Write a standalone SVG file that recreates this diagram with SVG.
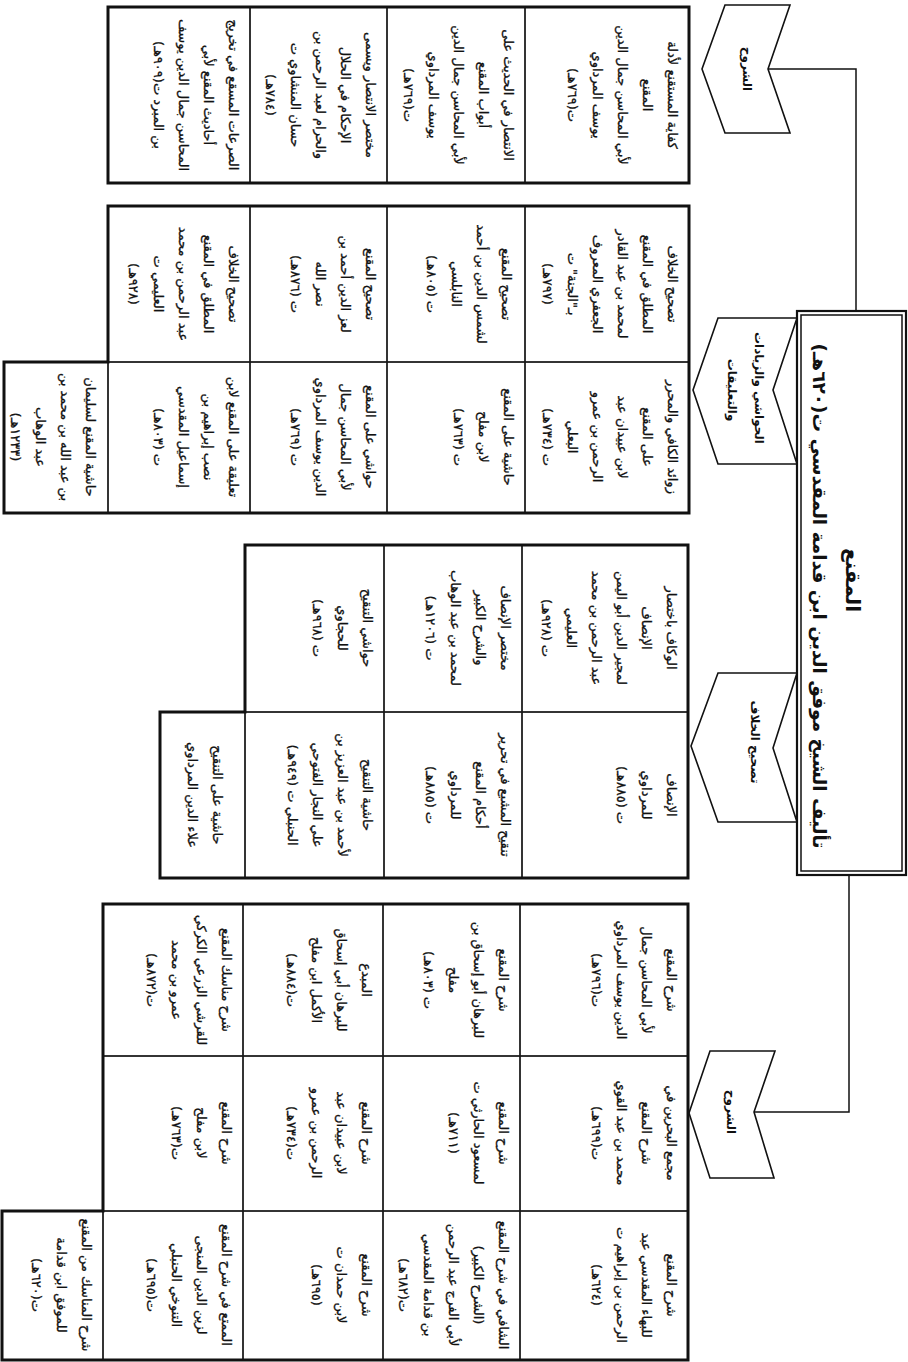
<svg xmlns="http://www.w3.org/2000/svg" width="908" height="1362" viewBox="0 0 908 1362">
<style>
.bg{fill:#fff}
.cell rect{fill:none;stroke:#1a1a1a;stroke-width:1.3}
.outer{fill:none;stroke:#111;stroke-width:3}
.t{font-family:"DejaVu Sans",sans-serif;font-size:13px;fill:#111;stroke:#111;stroke-width:0.3;text-anchor:middle;direction:rtl}
.lbl{font-family:"DejaVu Sans",sans-serif;font-size:12px;font-weight:bold;fill:#111;text-anchor:middle;direction:rtl}
.ttl{font-family:"DejaVu Sans",sans-serif;font-weight:bold;fill:#111;text-anchor:middle;direction:rtl}
.pent{fill:#fff;stroke:#111;stroke-width:1.6;stroke-linejoin:miter}
.conn{fill:none;stroke:#111;stroke-width:1.5}
</style>
<rect class="bg" x="0" y="0" width="908" height="1362"/>
<g transform="translate(908,0) rotate(90)">

<g id="connectors">
<path class="conn" d="M69,140 V52 H311"/>
<path class="conn" d="M875,59 H1112 V154"/>
</g>

<g id="root">
<rect x="311" y="2" width="564" height="109" fill="#fff" stroke="#111" stroke-width="2.2"/>
<rect x="315" y="6" width="556" height="101" fill="none" stroke="#111" stroke-width="1.5"/>
<text class="ttl" x="580" y="62" font-size="20">المقنع</text>
<text class="ttl" x="596" y="95" font-size="18.5">تأليف الشيخ موفق الدين ابن قدامة المقدسي ت(٦٢٠هـ)</text>
</g>

<g id="cat-shuruh-1">
<polygon class="pent" points="5,118 69,140 133,118 133,183 69,206 5,183"/>
<text class="lbl" x="69" y="165" font-size="14">الشروح</text>
</g>
<g id="cat-hawashi">
<polygon class="pent" points="318,111 390,135 464,111 464,190 390,215 318,190"/>
<text class="lbl" x="388" y="153" font-size="11">الحواشي والزيادات</text>
<text class="lbl" x="390" y="180" font-size="11">والتعليقات</text>
</g>
<g id="cat-tashih">
<polygon class="pent" points="673,111 748,135 822,111 822,190 746,217 673,190"/>
<text class="lbl" x="742" y="157">تصحيح الخلاف</text>
</g>
<g id="cat-shuruh-2">
<polygon class="pent" points="1051,133 1112,154 1178,134 1178,198 1113,219 1051,198"/>
<text class="lbl" x="1112" y="181" font-size="14">الشروح</text>
</g>

<!-- Table 1 -->
<g id="t1-1" class="cell"><rect x="7" y="219" width="176" height="164"/>
<text class="t"><tspan x="95" y="240">كفاية المستقنع لأدلة</tspan><tspan x="95" y="265">المقنع</tspan><tspan x="95" y="290">لأبي المحاسن جمال الدين</tspan><tspan x="95" y="315">يوسف المرداوي</tspan><tspan x="95" y="340">ت(٧٦٩هـ)</tspan></text></g>
<g id="t1-2" class="cell"><rect x="7" y="383" width="176" height="138"/>
<text class="t"><tspan x="95" y="404">الانتصار في الحديث على</tspan><tspan x="95" y="429">أبواب المقنع</tspan><tspan x="95" y="454">لأبي المحاسن جمال الدين</tspan><tspan x="95" y="479">يوسف المرداوي</tspan><tspan x="95" y="504">ت(٧٦٩هـ)</tspan></text></g>
<g id="t1-3" class="cell"><rect x="7" y="521" width="176" height="137"/>
<text class="t"><tspan x="95" y="542">مختصر الانتصار ويسمى</tspan><tspan x="95" y="567">الإحكام في الحلال</tspan><tspan x="95" y="592">والحرام لعبد الرحمن بن</tspan><tspan x="95" y="617">حسان المنشاوي ت</tspan><tspan x="95" y="642">(٧٨٤هـ)</tspan></text></g>
<g id="t1-4" class="cell"><rect x="7" y="658" width="176" height="142"/>
<text class="t"><tspan x="95" y="679">الصرعات المسقع في تخريج</tspan><tspan x="95" y="704">أحاديث المقنع لأبي</tspan><tspan x="95" y="729">المحاسن جمال الدين يوسف</tspan><tspan x="95" y="754">بن المبرد ت(٩٠٩هـ)</tspan></text></g>
<path class="outer" d="M7,219 H183 V800 H7 Z"/>

<!-- Table 2 -->
<g id="t2-1" class="cell"><rect x="206" y="219" width="156" height="164"/>
<text class="t"><tspan x="284" y="240">تصحيح الخلاف</tspan><tspan x="284" y="265">المطلق في المقنع</tspan><tspan x="284" y="290">لمحمد بن عبد القادر</tspan><tspan x="284" y="315">الجعفري المعروف</tspan><tspan x="284" y="340">بـ"الجنة" ت</tspan><tspan x="284" y="365">(٧٩٧هـ)</tspan></text></g>
<g id="t2-2" class="cell"><rect x="206" y="383" width="156" height="138"/>
<text class="t"><tspan x="284" y="406">تصحيح المقنع</tspan><tspan x="284" y="431">لشمس الدين بن أحمد</tspan><tspan x="284" y="456">النابلسي</tspan><tspan x="284" y="481">ت (٨٠٥هـ)</tspan></text></g>
<g id="t2-3" class="cell"><rect x="206" y="521" width="156" height="137"/>
<text class="t"><tspan x="284" y="542">تصحيح المقنع</tspan><tspan x="284" y="567">لعز الدين أحمد بن</tspan><tspan x="284" y="592">نصر الله</tspan><tspan x="284" y="617">ت (٨٧٦هـ)</tspan></text></g>
<g id="t2-4" class="cell"><rect x="206" y="658" width="156" height="142"/>
<text class="t"><tspan x="284" y="679">تصحيح الخلاف</tspan><tspan x="284" y="704">المطلق في المقنع</tspan><tspan x="284" y="729">عبد الرحمن بن محمد</tspan><tspan x="284" y="754">العليمي ت</tspan><tspan x="284" y="779">(٩٢٨هـ)</tspan></text></g>
<g id="t2-5" class="cell"><rect x="362" y="219" width="151" height="164"/>
<text class="t"><tspan x="437" y="240">زوائد الكافي والمحرر</tspan><tspan x="437" y="265">على المقنع</tspan><tspan x="437" y="290">لابن عبيدان عبد</tspan><tspan x="437" y="315">الرحمن بن عمرو</tspan><tspan x="437" y="340">البعلي</tspan><tspan x="437" y="365">ت (٧٣٤هـ)</tspan></text></g>
<g id="t2-6" class="cell"><rect x="362" y="383" width="151" height="138"/>
<text class="t"><tspan x="437" y="404">حاشية على المقنع</tspan><tspan x="437" y="429">لابن مفلح</tspan><tspan x="437" y="454">ت (٧٦٣هـ)</tspan></text></g>
<g id="t2-7" class="cell"><rect x="362" y="521" width="151" height="137"/>
<text class="t"><tspan x="437" y="542">حواشي على المقنع</tspan><tspan x="437" y="567">لأبي المحاسن جمال</tspan><tspan x="437" y="592">الدين يوسف المرداوي</tspan><tspan x="437" y="617">ت (٧٦٩هـ)</tspan></text></g>
<g id="t2-8" class="cell"><rect x="362" y="658" width="151" height="142"/>
<text class="t"><tspan x="437" y="679">تعليقة على المقنع لابن</tspan><tspan x="437" y="704">نصب إبراهيم بن</tspan><tspan x="437" y="729">إسماعيل المقدسي</tspan><tspan x="437" y="754">ت (٨٠٣هـ)</tspan></text></g>
<g id="t2-9" class="cell"><rect x="362" y="800" width="151" height="104"/>
<text class="t"><tspan x="437" y="822">حاشية المقنع لسليمان</tspan><tspan x="437" y="847">بن عبد الله بن محمد بن</tspan><tspan x="437" y="872">عبد الوهاب</tspan><tspan x="437" y="897">(١٢٣٣هـ)</tspan></text></g>
<path class="outer" d="M206,219 H513 V904 H362 V800 H206 Z"/>

<!-- Table 3 -->
<g id="t3-1" class="cell"><rect x="545" y="220" width="167" height="166"/>
<text class="t"><tspan x="628" y="241">الوكاف باختصار</tspan><tspan x="628" y="266">الإنصاف</tspan><tspan x="628" y="291">لمجير الدين أبو اليمن</tspan><tspan x="628" y="316">عبد الرحمن بن محمد</tspan><tspan x="628" y="341">العليمي</tspan><tspan x="628" y="366">ت (٩٢٨هـ)</tspan></text></g>
<g id="t3-2" class="cell"><rect x="545" y="386" width="167" height="138"/>
<text class="t"><tspan x="628" y="407">مختصر الإنصاف</tspan><tspan x="628" y="432">والشرح الكبير</tspan><tspan x="628" y="457">لمحمد بن عبد الوهاب</tspan><tspan x="628" y="482">ت (١٢٠٦هـ)</tspan></text></g>
<g id="t3-3" class="cell"><rect x="545" y="524" width="167" height="139"/>
<text class="t"><tspan x="628" y="545">حواشي التنقيح</tspan><tspan x="628" y="570">للحجاوي</tspan><tspan x="628" y="595">ت (٩٦٨هـ)</tspan></text></g>
<g id="t3-4" class="cell"><rect x="712" y="220" width="166" height="166"/>
<text class="t"><tspan x="795" y="241">الإنصاف</tspan><tspan x="795" y="266">للمرداوي</tspan><tspan x="795" y="291">ت (٨٨٥هـ)</tspan></text></g>
<g id="t3-5" class="cell"><rect x="712" y="386" width="166" height="138"/>
<text class="t"><tspan x="795" y="407">تنقيح المشبع في تحرير</tspan><tspan x="795" y="432">أحكام المقنع</tspan><tspan x="795" y="457">للمرداوي</tspan><tspan x="795" y="482">ت (٨٨٥هـ)</tspan></text></g>
<g id="t3-6" class="cell"><rect x="712" y="524" width="166" height="139"/>
<text class="t"><tspan x="795" y="545">حاشية التنقيح</tspan><tspan x="795" y="570">لأحمد بن عبد العزيز بن</tspan><tspan x="795" y="595">علي النجار الفتوحي</tspan><tspan x="795" y="620">الحنبلي ت (٩٤٩هـ)</tspan></text></g>
<g id="t3-7" class="cell"><rect x="712" y="663" width="166" height="85"/>
<text class="t"><tspan x="795" y="695">حاشية على التنقيح</tspan><tspan x="795" y="720">علاء الدين المرداوي</tspan></text></g>
<path class="outer" d="M545,220 H878 V748 H712 V663 H545 Z"/>

<!-- Table 4 -->
<g id="t4-1" class="cell"><rect x="904" y="220" width="152" height="168"/>
<text class="t"><tspan x="980" y="241">شرح المقنع</tspan><tspan x="980" y="266">لأبي المحاسن جمال</tspan><tspan x="980" y="291">الدين يوسف المرداوي</tspan><tspan x="980" y="316">ت(٧٩٦هـ)</tspan></text></g>
<g id="t4-2" class="cell"><rect x="904" y="388" width="152" height="137"/>
<text class="t"><tspan x="980" y="409">شرح المقنع</tspan><tspan x="980" y="434">للبرهان أبو إسحاق بن</tspan><tspan x="980" y="459">مفلح</tspan><tspan x="980" y="484">ت (٨٠٣هـ)</tspan></text></g>
<g id="t4-3" class="cell"><rect x="904" y="525" width="152" height="140"/>
<text class="t"><tspan x="980" y="546">المبدع</tspan><tspan x="980" y="571">للبرهان أبي إسحاق</tspan><tspan x="980" y="596">الأكمل ابن مفلح</tspan><tspan x="980" y="621">ت(٨٨٤هـ)</tspan></text></g>
<g id="t4-4" class="cell"><rect x="904" y="665" width="152" height="140"/>
<text class="t"><tspan x="980" y="686">شرح مناسك المقنع</tspan><tspan x="980" y="711">للقرشي الزرعي الكركي</tspan><tspan x="980" y="736">عمرو بن محمد</tspan><tspan x="980" y="761">ت(٨٧٢هـ)</tspan></text></g>
<g id="t4-5" class="cell"><rect x="1056" y="220" width="155" height="168"/>
<text class="t"><tspan x="1133" y="241">مجمع البحرين في</tspan><tspan x="1133" y="266">شرح المقنع</tspan><tspan x="1133" y="291">محمد بن عبد القوي</tspan><tspan x="1133" y="316">ت(٦٩٩هـ)</tspan></text></g>
<g id="t4-6" class="cell"><rect x="1056" y="388" width="155" height="137"/>
<text class="t"><tspan x="1133" y="409">شرح المقنع</tspan><tspan x="1133" y="434">لمسعود الحارثي ت</tspan><tspan x="1133" y="459">(٧١١هـ)</tspan></text></g>
<g id="t4-7" class="cell"><rect x="1056" y="525" width="155" height="140"/>
<text class="t"><tspan x="1133" y="546">شرح المقنع</tspan><tspan x="1133" y="571">لابن عبيدان عبد</tspan><tspan x="1133" y="596">الرحمن بن عمرو</tspan><tspan x="1133" y="621">ت(٧٣٤هـ)</tspan></text></g>
<g id="t4-8" class="cell"><rect x="1056" y="665" width="155" height="140"/>
<text class="t"><tspan x="1133" y="686">شرح المقنع</tspan><tspan x="1133" y="711">لابن مفلح</tspan><tspan x="1133" y="736">ت(٧٦٣هـ)</tspan></text></g>
<g id="t4-9" class="cell"><rect x="1211" y="220" width="149" height="168"/>
<text class="t"><tspan x="1285" y="241">شرح المقنع</tspan><tspan x="1285" y="266">للبهاء المقدسي عبد</tspan><tspan x="1285" y="291">الرحمن بن إبراهيم ت</tspan><tspan x="1285" y="316">(٦٢٤هـ)</tspan></text></g>
<g id="t4-10" class="cell"><rect x="1211" y="388" width="149" height="137"/>
<text class="t"><tspan x="1285" y="409">الشافي في شرح المقنع</tspan><tspan x="1285" y="434">(الشرح الكبير)</tspan><tspan x="1285" y="459">لأبي الفرج عبد الرحمن</tspan><tspan x="1285" y="484">بن قدامة المقدسي</tspan><tspan x="1285" y="509">ت(٦٨٢هـ)</tspan></text></g>
<g id="t4-11" class="cell"><rect x="1211" y="525" width="149" height="140"/>
<text class="t"><tspan x="1285" y="546">شرح المقنع</tspan><tspan x="1285" y="571">لابن حمدان ت</tspan><tspan x="1285" y="596">(٦٩٥هـ)</tspan></text></g>
<g id="t4-12" class="cell"><rect x="1211" y="665" width="149" height="140"/>
<text class="t"><tspan x="1285" y="686">الممتع في شرح المقنع</tspan><tspan x="1285" y="711">لزين الدين المنجى</tspan><tspan x="1285" y="736">التنوخي الحنبلي</tspan><tspan x="1285" y="761">ت(٦٩٥هـ)</tspan></text></g>
<g id="t4-13" class="cell"><rect x="1211" y="805" width="149" height="101"/>
<text class="t"><tspan x="1285" y="826">شرح المناسك من المقنع</tspan><tspan x="1285" y="851">للموفق ابن قدامة</tspan><tspan x="1285" y="876">ت(٦٢٠هـ)</tspan></text></g>
<path class="outer" d="M904,220 H1360 V906 H1211 V805 H904 Z"/>

</g>
</svg>
